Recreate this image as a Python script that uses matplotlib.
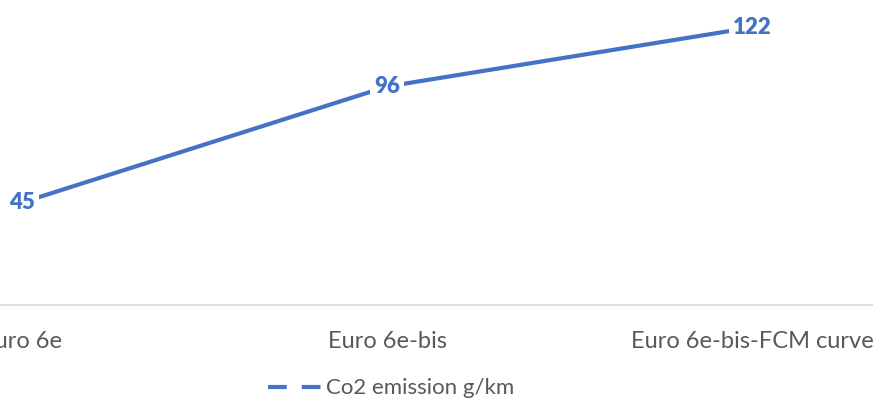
import matplotlib.pyplot as plt
from matplotlib.lines import Line2D

categories = ['Euro 6e', 'Euro 6e-bis', 'Euro 6e-bis-FCM curve']
co2 = [45, 96, 122]
series_name = 'Co2 emission g/km'

blue = '#4472C4'
grey = '#595959'
plt.rcParams['font.family'] = ['Lato', 'DejaVu Sans']

fig = plt.figure(figsize=(8.73, 4.03), dpi=100)
ax = fig.add_axes([0, 98 / 403, 1, 305 / 403])

x = list(range(len(categories)))
ax.plot(x, co2, color=blue, lw=3, solid_capstyle='butt', zorder=2)
for xi, v in zip(x, co2):
    ax.text(xi, v, str(v), ha='center', va='center', color=blue,
            fontsize=16, fontweight='heavy', zorder=3,
            bbox=dict(facecolor='white', edgecolor='none', pad=3))

ax.set_xlim(-0.06, 2.33)
ax.set_ylim(0, 134)
ax.set_xticks(x)
ax.set_xticklabels(categories, fontsize=17, color=grey)
ax.tick_params(axis='x', length=0, pad=19)
ax.set_yticks([])
for s in ['top', 'left', 'right']:
    ax.spines[s].set_visible(False)
ax.spines['bottom'].set_color('#D9D9D9')
ax.spines['bottom'].set_linewidth(1.2)

handle = Line2D([], [], color=blue, lw=3, dashes=(4.5, 3.6))
fig.legend([handle], [series_name], loc='center', bbox_to_anchor=(0.448, 0.036),
           frameon=False, fontsize=16, labelcolor=grey, handlelength=2.45,
           handletextpad=0.2)

fig.savefig('out.png', dpi=100, facecolor='white')
